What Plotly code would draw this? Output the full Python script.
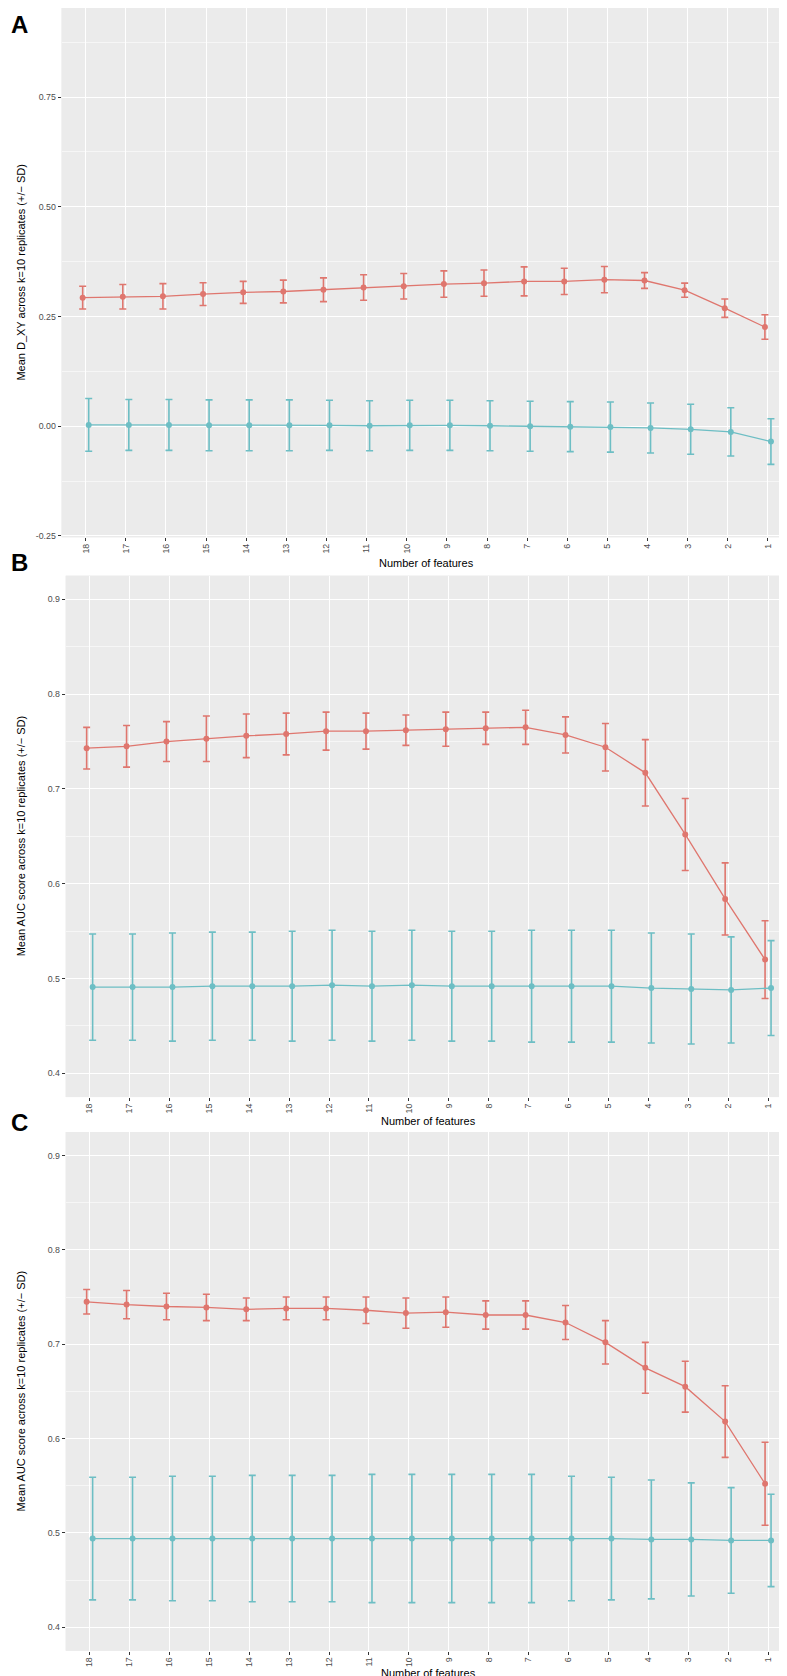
import plotly.graph_objects as go

# ---------------- data ----------------
features = ["18", "17", "16", "15", "14", "13", "12", "11", "10",
            "9", "8", "7", "6", "5", "4", "3", "2", "1"]

# Panel A: Mean D_XY
a_red_mean = [0.293, 0.295, 0.296, 0.301, 0.305, 0.307, 0.311, 0.316, 0.319,
              0.324, 0.326, 0.330, 0.330, 0.334, 0.332, 0.310, 0.269, 0.226]
a_red_sd = [0.026, 0.028, 0.029, 0.026, 0.025, 0.026, 0.027, 0.029, 0.029,
            0.030, 0.030, 0.033, 0.030, 0.030, 0.018, 0.016, 0.021, 0.028]
a_cyan_mean = [0.003, 0.003, 0.003, 0.002, 0.002, 0.002, 0.002, 0.001, 0.002,
               0.002, 0.001, 0.000, -0.001, -0.002, -0.004, -0.007, -0.013, -0.035]
a_cyan_sd = [0.060, 0.058, 0.058, 0.058, 0.058, 0.058, 0.057, 0.057, 0.057,
             0.057, 0.057, 0.057, 0.057, 0.057, 0.057, 0.057, 0.055, 0.052]

# Panel B: Mean AUC
b_red_mean = [0.743, 0.745, 0.750, 0.753, 0.756, 0.758, 0.761, 0.761, 0.762,
              0.763, 0.764, 0.765, 0.757, 0.744, 0.717, 0.652, 0.584, 0.520]
b_red_sd = [0.022, 0.022, 0.021, 0.024, 0.023, 0.022, 0.020, 0.019, 0.016,
            0.018, 0.017, 0.018, 0.019, 0.025, 0.035, 0.038, 0.038, 0.041]
b_cyan_mean = [0.491, 0.491, 0.491, 0.492, 0.492, 0.492, 0.493, 0.492, 0.493,
               0.492, 0.492, 0.492, 0.492, 0.492, 0.490, 0.489, 0.488, 0.490]
b_cyan_sd = [0.056, 0.056, 0.057, 0.057, 0.057, 0.058, 0.058, 0.058, 0.058,
             0.058, 0.058, 0.059, 0.059, 0.059, 0.058, 0.058, 0.056, 0.050]

# Panel C: Mean AUC
c_red_mean = [0.745, 0.742, 0.740, 0.739, 0.737, 0.738, 0.738, 0.736, 0.733,
              0.734, 0.731, 0.731, 0.723, 0.702, 0.675, 0.655, 0.618, 0.552]
c_red_sd = [0.013, 0.015, 0.014, 0.014, 0.012, 0.012, 0.012, 0.014, 0.016,
            0.016, 0.015, 0.015, 0.018, 0.023, 0.027, 0.027, 0.038, 0.044]
c_cyan_mean = [0.494, 0.494, 0.494, 0.494, 0.494, 0.494, 0.494, 0.494, 0.494,
               0.494, 0.494, 0.494, 0.494, 0.494, 0.493, 0.493, 0.492, 0.492]
c_cyan_sd = [0.065, 0.065, 0.066, 0.066, 0.067, 0.067, 0.067, 0.068, 0.068,
             0.068, 0.068, 0.068, 0.066, 0.065, 0.063, 0.060, 0.056, 0.049]

a_yticks = [-0.25, 0.0, 0.25, 0.50, 0.75]
a_yticktext = ["-0.25", "0.00", "0.25", "0.50", "0.75"]
bc_yticks = [0.4, 0.5, 0.6, 0.7, 0.8, 0.9]
bc_yticktext = ["0.4", "0.5", "0.6", "0.7", "0.8", "0.9"]

panel_letters = ["A", "B", "C"]
y_titles = ["Mean D_XY across k=10 replicates (+/\u2212 SD)",
            "Mean AUC score across k=10 replicates (+/\u2212 SD)",
            "Mean AUC score across k=10 replicates (+/\u2212 SD)"]
x_title = "Number of features"

# ---------------- styling ----------------
W, H = 787, 1676
RED = "#DF766E"
CYAN = "#6DBEC4"
BG = "#EBEBEB"
FONT = "Liberation Sans, Arial, sans-serif"
DODGE = 0.075

idx = list(range(len(features)))

panels = [
    dict(px_x0=53.6, px_x1=784, px_y0=0, px_y1=530.5, yr=[-0.253, 0.953],
         ticks=a_yticks, ticktext=a_yticktext, minor=0.25, minor0=0.125,
         data=(a_red_mean, a_red_sd, a_cyan_mean, a_cyan_sd),
         letter_y=17, xtitle_y=556),
    dict(px_x0=57.7, px_x1=784, px_y0=569, px_y1=1091.7, yr=[0.375, 0.925],
         ticks=bc_yticks, ticktext=bc_yticktext, minor=0.1, minor0=0.45,
         data=(b_red_mean, b_red_sd, b_cyan_mean, b_cyan_sd),
         letter_y=555.5, xtitle_y=1116),
    dict(px_x0=57.7, px_x1=784, px_y0=1126.7, px_y1=1646.7, yr=[0.375, 0.925],
         ticks=bc_yticks, ticktext=bc_yticktext, minor=0.1, minor0=0.45,
         data=(c_red_mean, c_red_sd, c_cyan_mean, c_cyan_sd),
         letter_y=1117, xtitle_y=1668.5),
]

fig = go.Figure()
annotations = []
layout_axes = {}

for i, p in enumerate(panels):
    n = "" if i == 0 else str(i + 1)
    xa, ya = "x" + n, "y" + n
    red_m, red_sd, cy_m, cy_sd = p["data"]
    for mean, sd, col, off in ((red_m, red_sd, RED, -DODGE), (cy_m, cy_sd, CYAN, DODGE)):
        fig.add_trace(go.Scatter(
            x=[k + off for k in idx], y=mean, mode="lines+markers",
            line=dict(color=col, width=1.3),
            marker=dict(color=col, size=6),
            error_y=dict(type="data", array=sd, visible=True, color=col,
                         thickness=1.6, width=3.5),
            xaxis=xa, yaxis=ya, showlegend=False, hoverinfo="skip"))

    xdom = [p["px_x0"] / W, p["px_x1"] / W]
    ydom = [1 - p["px_y1"] / H, 1 - p["px_y0"] / H]
    layout_axes["xaxis" + n] = dict(
        domain=xdom, range=[-0.6, 17.6], tickmode="array", tickvals=idx,
        ticktext=features, tickangle=-90, showgrid=True, gridcolor="white",
        gridwidth=1.1, zeroline=False, showline=False, ticks="outside",
        ticklen=3, tickcolor="#333333", tickwidth=1, ticklabelstandoff=-1,
        tickfont=dict(family=FONT, size=8.8, color="#4D4D4D"),
        anchor=ya, fixedrange=True)
    layout_axes["yaxis" + n] = dict(
        domain=ydom, range=p["yr"], tickmode="array", tickvals=p["ticks"],
        ticktext=p["ticktext"], showgrid=True, gridcolor="white", gridwidth=1.1,
        minor=dict(tickmode="linear", tick0=p["minor0"], dtick=p["minor"],
                   showgrid=True, gridcolor="#F6F6F6", gridwidth=0.6, ticks=""),
        zeroline=False, showline=False, ticks="outside", ticklen=3,
        tickcolor="#333333", tickwidth=1,
        tickfont=dict(family=FONT, size=8.8, color="#4D4D4D"),
        anchor=xa, fixedrange=True)

    fig.add_shape(type="rect", xref="paper", yref="paper",
                  x0=xdom[0], x1=xdom[1], y0=ydom[0], y1=ydom[1],
                  fillcolor=BG, line=dict(width=0), layer="below")

    # panel letter
    annotations.append(dict(text="<b>%s</b>" % panel_letters[i], x=1 / W, y=1 - p["letter_y"] / H,
                            xref="paper", yref="paper", xanchor="left", yanchor="middle",
                            showarrow=False, font=dict(family=FONT, size=24, color="black")))
    # y title
    annotations.append(dict(text=y_titles[i], x=13 / W, y=1 - (p["px_y0"] + p["px_y1"]) / 2 / H,
                            xref="paper", yref="paper", xanchor="center", yanchor="middle",
                            textangle=-90, showarrow=False,
                            font=dict(family=FONT, size=11, color="black")))
    # x title
    annotations.append(dict(text=x_title, x=(p["px_x0"] + p["px_x1"]) / 2 / W, y=1 - p["xtitle_y"] / H,
                            xref="paper", yref="paper", xanchor="center", yanchor="middle",
                            showarrow=False, font=dict(family=FONT, size=11, color="black")))

fig.add_shape(type="rect", xref="paper", yref="paper", x0=785 / W, x1=1, y0=0, y1=1,
              fillcolor="#D0D0D0", line=dict(width=0), layer="above")

fig.update_layout(
    width=W, height=H, margin=dict(l=0, r=0, t=0, b=0),
    paper_bgcolor="white", plot_bgcolor=BG,
    annotations=annotations, **layout_axes)

fig.write_html("out.html")
